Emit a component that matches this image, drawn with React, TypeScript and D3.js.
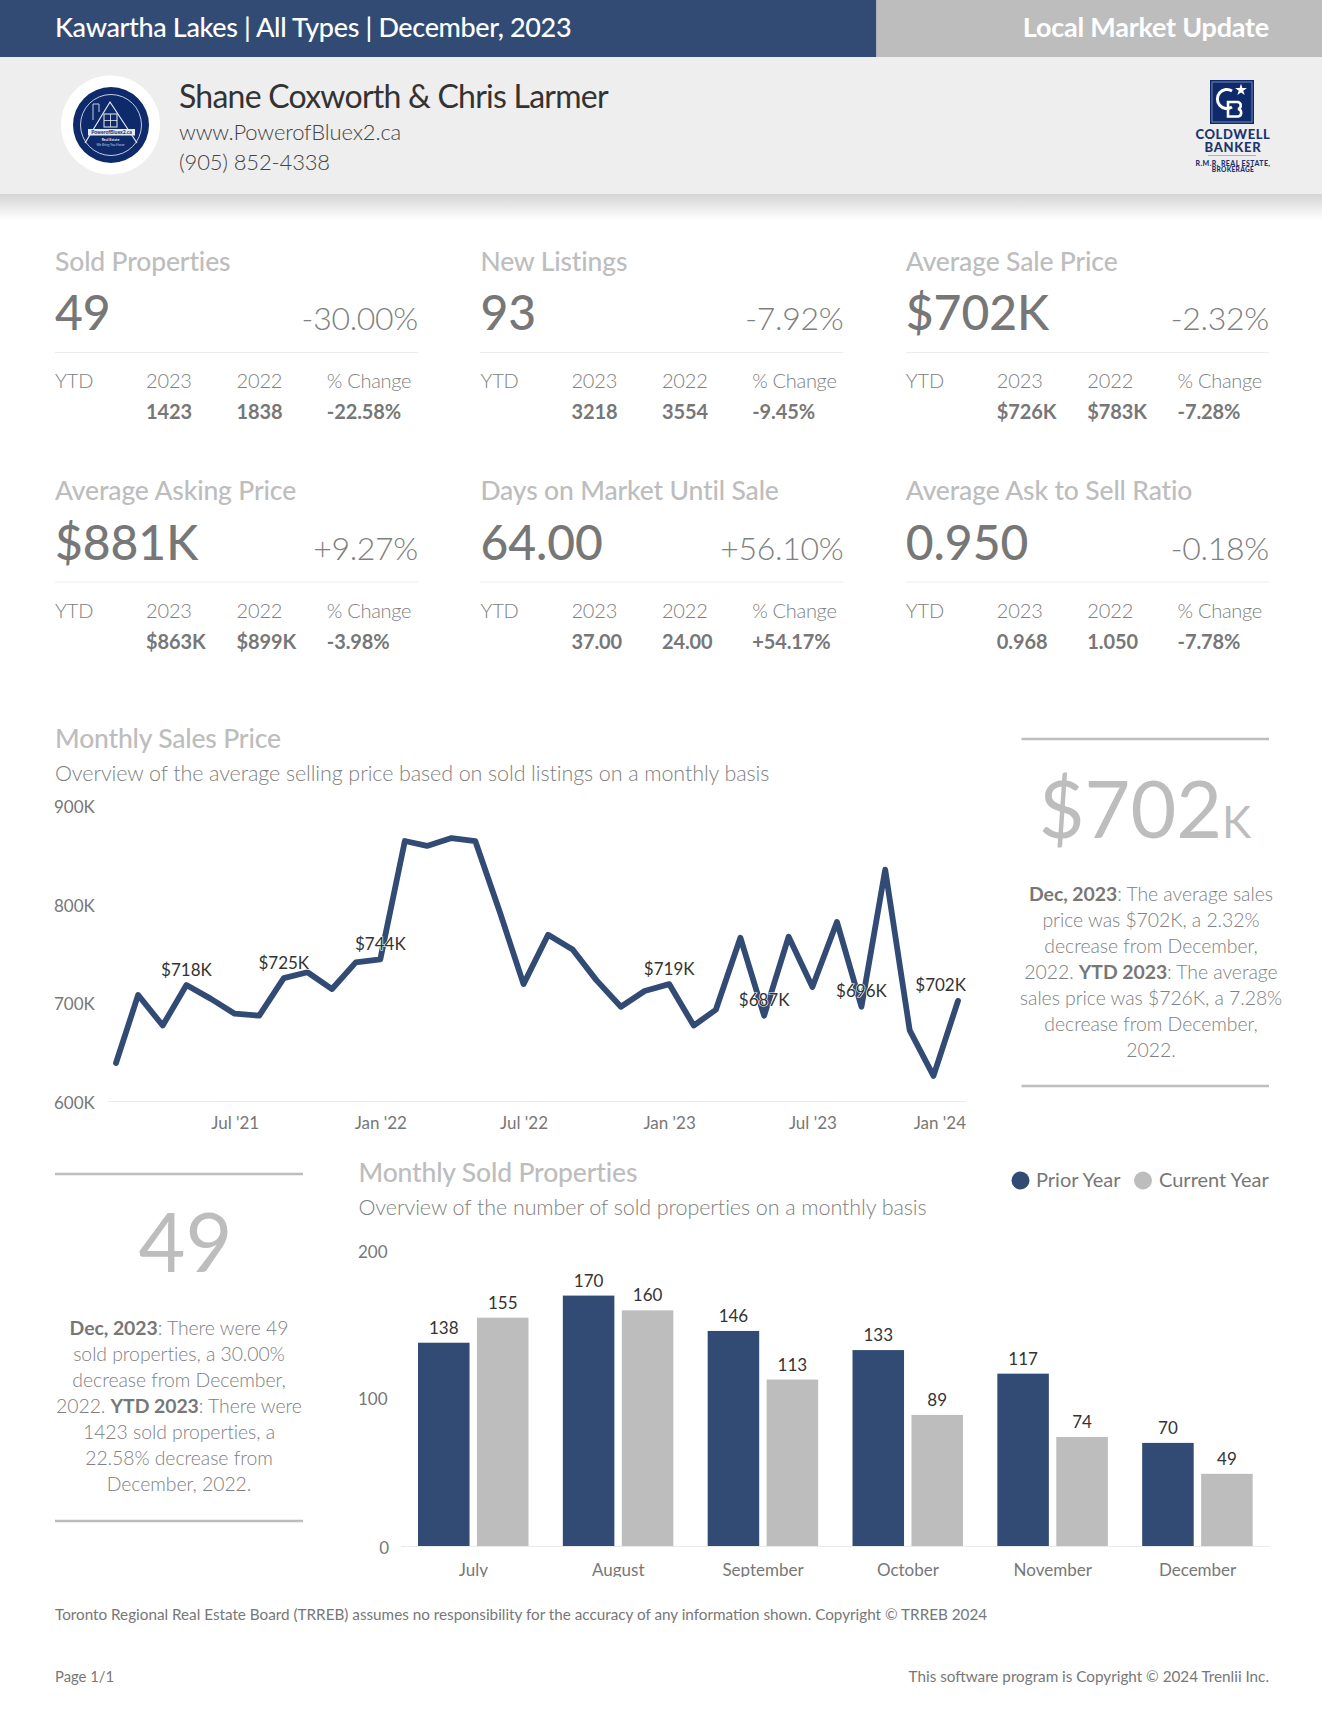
import React from "react";
import * as d3 from "d3";

const headerTitle = "Kawartha Lakes | All Types | December, 2023";
const headerRight = "Local Market Update";
const contactName = "Shane Coxworth & Chris Larmer";
const contactWeb = "www.PowerofBluex2.ca";
const contactPhone = "(905) 852-4338";

const kpiTitles = ["Sold Properties", "New Listings", "Average Sale Price", "Average Asking Price", "Days on Market Until Sale", "Average Ask to Sell Ratio"];
const kpiValues = ["49", "93", "$702K", "$881K", "64.00", "0.950"];
const kpiChanges = ["-30.00%", "-7.92%", "-2.32%", "+9.27%", "+56.10%", "-0.18%"];
const ytd2023 = ["1423", "3218", "$726K", "$863K", "37.00", "0.968"];
const ytd2022 = ["1838", "3554", "$783K", "$899K", "24.00", "1.050"];
const ytdChange = ["-22.58%", "-9.45%", "-7.28%", "-3.98%", "+54.17%", "-7.78%"];

const priceStart = new Date(Date.UTC(2021, 1, 1));
const priceEnd = new Date(Date.UTC(2024, 1, 1));
const priceValues = [639, 708, 677, 718, 704, 689, 687, 725, 731, 714, 741, 744, 864, 859, 867, 864, 792, 719, 769, 754, 723, 696, 712, 719, 677, 693, 766, 687, 767, 716, 782, 696, 835, 672, 626, 702];
const priceLabelled = [3, 7, 11, 23, 27, 31, 35];
const priceTicks = [600, 700, 800, 900];

const months = ["July", "August", "September", "October", "November", "December"];
const priorYear = [138, 170, 146, 133, 117, 70];
const currentYear = [155, 160, 113, 89, 74, 49];
const soldTicks = [0, 100, 200];

const priceNote = [
  [["Dec, 2023", true], [": The average sales", false]],
  [["price was $702K, a 2.32%", false]],
  [["decrease from December,", false]],
  [["2022. ", false], ["YTD 2023", true], [": The average", false]],
  [["sales price was $726K, a 7.28%", false]],
  [["decrease from December,", false]],
  [["2022.", false]],
];
const soldNote = [
  [["Dec, 2023", true], [": There were 49", false]],
  [["sold properties, a 30.00%", false]],
  [["decrease from December,", false]],
  [["2022. ", false], ["YTD 2023", true], [": There were", false]],
  [["1423 sold properties, a", false]],
  [["22.58% decrease from", false]],
  [["December, 2022.", false]],
];

const BLUE = "#324b74";
const GREY = "#bdbdbd";
const NAVY = "#0f2a6b";
const F = "Lato, sans-serif";

const T = ({ x, y, s, c = "#777", w = 400, a = "start", ls = 0, children, ...r }: any) => (
  <text x={x} y={y} fontSize={s} fill={c} fontWeight={w} textAnchor={a} letterSpacing={ls} fontFamily={F} {...r}>{children}</text>
);

const Note = ({ lines, cx, y0, step }: any) => (
  <g>
    {lines.map((ln: any, i: number) => (
      <T key={i} x={cx} y={y0 + i * step} s={19.4} c="#808080" w={300} a="middle" ls={-0.05}>
        {ln.map((p: any, j: number) => (
          <tspan key={j} fontWeight={p[1] ? 700 : 300} fill={p[1] ? "#777" : "#808080"}>{p[0]}</tspan>
        ))}
      </T>
    ))}
  </g>
);

function Kpi({ i }: { i: number }) {
  const x = 55 + (i % 3) * 425.4;
  const dy = i >= 3 ? 229.5 : 0;
  const cols = [0, 91, 181.5, 271.8];
  return (
    <g transform={`translate(${x},${dy})`}>
      <T x={0} y={i >= 3 ? 270 : 271} s={26.5} c={GREY} w={500} ls={-0.15}>{kpiTitles[i]}</T>
      <T x={0} y={i >= 3 ? 330.5 : 330} s={48} c="#777" w={500} ls={-0.05}>{kpiValues[i]}</T>
      <T x={363} y={330} s={32} c="#808080" w={300} a="end" ls={-0.3}>{kpiChanges[i]}</T>
      <line x1={0} x2={363} y1={352.5} y2={352.5} stroke="#ececec" />
      {["YTD", "2023", "2022", "% Change"].map((t, k) => (
        <T key={k} x={cols[k]} y={388} s={20} c="#808080" w={300} ls={k === 3 ? -0.3 : -0.15}>{t}</T>
      ))}
      <T x={cols[1]} y={419} s={20} c="#777" w={700} ls={-0.1}>{ytd2023[i]}</T>
      <T x={cols[2]} y={419} s={20} c="#777" w={700} ls={-0.1}>{ytd2022[i]}</T>
      <T x={cols[3]} y={419} s={20} c="#777" w={700} ls={-0.1}>{ytdChange[i]}</T>
    </g>
  );
}

function PriceChart() {
  const dates = d3.utcMonth.range(priceStart, priceEnd);
  const x = d3.scaleUtc().domain([dates[0], dates[dates.length - 1]]).range([116, 958]);
  const y = d3.scaleLinear().domain([600, 900]).range([1101.5, 805.5]);
  const fmt = d3.utcFormat("%b '%y");
  const ticks = x.ticks(d3.utcMonth.every(6) as any);
  const line = d3.line<number>().x((_, i) => x(dates[i])).y((d) => y(d)).curve(d3.curveLinear);
  return (
    <g>
      <line x1={108} x2={966} y1={y(600)} y2={y(600)} stroke="#eaeaea" />
      {priceTicks.map((t) => (
        <T key={t} x={54} y={y(t) + (t === 800 ? 8.3 : 7.3)} s={17} c="#777">{t}K</T>
      ))}
      {ticks.map((d, k) => {
        const last = k === ticks.length - 1;
        return <T key={k} x={last ? 966 : x(d) + 0.5} y={1129} s={17} c="#777" a={last ? "end" : "middle"}>{fmt(d)}</T>;
      })}
      <path d={line(priceValues) || ""} fill="none" stroke={BLUE} strokeWidth={5.8} strokeLinejoin="round" strokeLinecap="round" />
      {priceLabelled.map((i) => (
        <T key={i} x={i === 35 ? 966 : x(dates[i])} y={y(priceValues[i]) - 9.5} s={17} c="#333" a={i === 35 ? "end" : "middle"} stroke="#fff" strokeWidth={1.2} paintOrder="stroke">
          ${priceValues[i]}K
        </T>
      ))}
    </g>
  );
}

function SoldChart() {
  const x0 = d3.scaleBand<string>().domain(months).range([401, 1270]);
  const x1 = d3.scaleBand<string>().domain(["p", "c"]).range([17, 127.5]).paddingInner(0.126);
  const y = d3.scaleLinear().domain([0, 200]).range([1546, 1251.4]);
  return (
    <g>
      <clipPath id="catclip"><rect x={400} y={1550} width={880} height={27} /></clipPath>
      {soldTicks.map((t) => (
        <T key={t} x={t === 0 ? 389 : 358} y={y(t) + (t === 0 ? 8 : t === 100 ? 6.5 : 7)} s={17} c="#777" a={t === 0 ? "end" : "start"}>{t}</T>
      ))}
      {months.map((m, i) => (
        <g key={m}>
          <rect x={x0(m)! + x1("p")!} y={y(priorYear[i])} width={x1.bandwidth()} height={y(0) - y(priorYear[i])} fill={BLUE} />
          <rect x={x0(m)! + x1("c")!} y={y(currentYear[i])} width={x1.bandwidth()} height={y(0) - y(currentYear[i])} fill={GREY} />
          <T x={x0(m)! + x1("p")! + x1.bandwidth() / 2} y={y(priorYear[i]) - 9} s={17} c="#333" a="middle">{priorYear[i]}</T>
          <T x={x0(m)! + x1("c")! + x1.bandwidth() / 2} y={y(currentYear[i]) - 9} s={17} c="#333" a="middle">{currentYear[i]}</T>
          <T x={x0(m)! + x0.bandwidth() / 2} y={1575.5} s={17} c="#777" a="middle" clipPath="url(#catclip)">{m}</T>
        </g>
      ))}
      <line x1={401} x2={1270} y1={y(0) + 0.5} y2={y(0) + 0.5} stroke="#eaeaea" />
    </g>
  );
}

function AgentLogo() {
  return (
    <g>
      <circle cx={110.5} cy={125} r={49.5} fill="#fff" />
      <circle cx={111} cy={125} r={38} fill={NAVY} />
      <circle cx={111} cy={125} r={30.5} fill="none" stroke="#c3cce0" strokeWidth={1} />
      <path d="M85 143 L110 102 L137 143" fill="none" stroke="#e6ebf5" strokeWidth={1.2} />
      <path d="M93 104 V120 M99 104 V112 M93 104 H99" fill="none" stroke="#c3cce0" strokeWidth={1} />
      <rect x={104} y={114} width={13} height={13} fill="none" stroke="#e6ebf5" strokeWidth={1} />
      <path d="M110.5 114 V127 M104 120.5 H117" stroke="#e6ebf5" strokeWidth={0.8} />
      <rect x={88} y={129} width={47} height={6.5} fill="#e6ebf5" />
      <T x={111.5} y={134} s={5} c={NAVY} w={700} a="middle">PowerofBluex2.ca</T>
      <T x={110.5} y={141} s={3.6} c="#e6ebf5" w={700} a="middle">Real Estate</T>
      <T x={110.5} y={146} s={3.4} c="#c3cce0" w={400} a="middle" fontStyle="italic">We Bring You Home</T>
    </g>
  );
}

function BrokerLogo() {
  const star = d3.symbol().type(d3.symbolStar).size(44)() || "";
  return (
    <g>
      <rect x={1210} y={80} width={44} height={44} fill={NAVY} />
      <rect x={1212} y={82} width={40} height={40} fill="none" stroke="#8ea0c8" strokeWidth={0.8} />
      <path d="M1232 91 A9.5 9.5 0 1 0 1232 107" fill="none" stroke="#fff" strokeWidth={3} />
      <path d="M1228 102 H1238 A3.6 3.6 0 0 1 1238 109 A3.8 3.8 0 0 1 1238 116.5 H1228 Z" fill="none" stroke="#fff" strokeWidth={2.6} />
      <path d={star} transform="translate(1241,90)" fill="#fff" />
      <T x={1233} y={138.5} s={13} c="#1c3571" w={900} a="middle" ls={0.6}>COLDWELL</T>
      <T x={1233} y={151.5} s={13} c="#1c3571" w={900} a="middle" ls={0.7}>BANKER</T>
      <line x1={1208} x2={1256} y1={155.5} y2={155.5} stroke="#8ea0c8" strokeWidth={0.8} />
      <T x={1233} y={165.5} s={7} c="#1c3571" w={900} a="middle" ls={0.42}>R.M.R. REAL ESTATE,</T>
      <T x={1233} y={172} s={6.6} c="#1c3571" w={900} a="middle" ls={0.3}>BROKERAGE</T>
    </g>
  );
}

export default function App() {
  return (
    <svg width={1322} height={1724} viewBox="0 0 1322 1724" style={{ position: "absolute", left: 0, top: 0, background: "#fff" }}>
      <defs>
        <linearGradient id="shadow" x1="0" x2="0" y1="0" y2="1">
          <stop offset="0" stopColor="#d4d4d4" />
          <stop offset="1" stopColor="#ffffff" />
        </linearGradient>
      </defs>
      <rect x={0} y={194} width={1322} height={26} fill="url(#shadow)" />
      <rect x={0} y={57} width={1322} height={137} fill="#eeeeee" />
      <rect x={0} y={0} width={876.5} height={57} fill={BLUE} />
      <rect x={876.5} y={0} width={445.5} height={57} fill={GREY} />
      <T x={55} y={37} s={27} c="#fff" w={500} ls={-0.36}>{headerTitle}</T>
      <T x={1269} y={37} s={27} c="#fff" w={700} a="end" ls={-0.23}>{headerRight}</T>

      <AgentLogo />
      <T x={179} y={108} s={32} c="#333" w={400} ls={-0.76}>{contactName}</T>
      <T x={179} y={140} s={22} c="#444" w={300} ls={-0.16}>{contactWeb}</T>
      <T x={179} y={170} s={22} c="#444" w={300} ls={-0.15}>{contactPhone}</T>

      <BrokerLogo />

      {kpiTitles.map((_, i) => <Kpi key={i} i={i} />)}

      <T x={55} y={748} s={26.5} c={GREY} w={500} ls={-0.17}>Monthly Sales Price</T>
      <T x={55} y={781} s={21.5} c="#808080" w={300} ls={-0.1}>Overview of the average selling price based on sold listings on a monthly basis</T>
      <PriceChart />

      <line x1={1021.5} x2={1269} y1={739} y2={739} stroke={GREY} strokeWidth={2.6} />
      <T x={1145} y={838} s={79} c={GREY} w={400} a="middle">
        $702<tspan fontSize={44}>K</tspan>
      </T>
      <Note lines={priceNote} cx={1151} y0={901} step={26} />
      <line x1={1021.5} x2={1269} y1={1086} y2={1086} stroke={GREY} strokeWidth={2.6} />

      <line x1={55} x2={303} y1={1174} y2={1174} stroke={GREY} strokeWidth={2.6} />
      <T x={185.5} y={1272} s={81} c={GREY} w={400} a="middle">49</T>
      <Note lines={soldNote} cx={179} y0={1335} step={26} />
      <line x1={55} x2={303} y1={1521} y2={1521} stroke={GREY} strokeWidth={2.6} />

      <T x={358.5} y={1182} s={26.5} c={GREY} w={500} ls={-0.15}>Monthly Sold Properties</T>
      <T x={358.5} y={1215} s={21.5} c="#808080" w={300} ls={-0.08}>Overview of the number of sold properties on a monthly basis</T>
      <circle cx={1020.5} cy={1180.5} r={9} fill={BLUE} />
      <T x={1036} y={1187} s={20} c="#777">Prior Year</T>
      <circle cx={1143} cy={1180.5} r={9} fill={GREY} />
      <T x={1159} y={1187} s={20} c="#777">Current Year</T>
      <SoldChart />

      <T x={55} y={1620} s={15.25} c="#777">Toronto Regional Real Estate Board (TRREB) assumes no responsibility for the accuracy of any information shown. Copyright © TRREB 2024</T>
      <T x={55} y={1682} s={14.8} c="#777">Page 1/1</T>
      <T x={1269} y={1682} s={15.25} c="#777" a="end">This software program is Copyright © 2024 Trenlii Inc.</T>
    </svg>
  );
}
